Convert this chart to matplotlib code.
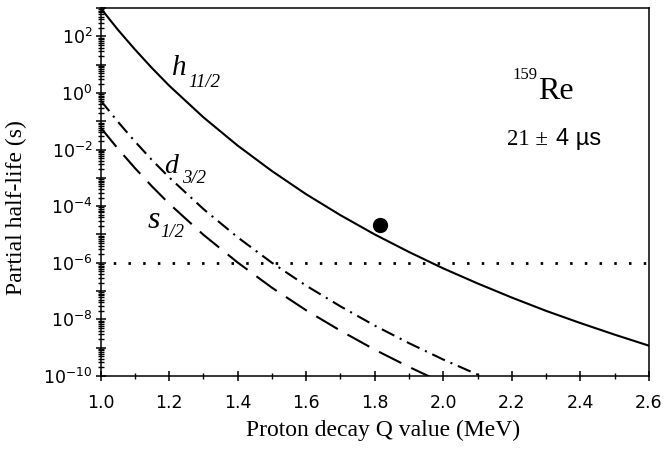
import matplotlib
matplotlib.use('Agg')
import matplotlib.pyplot as plt
import matplotlib.ticker as ticker
import numpy as np

# Q values (MeV) and log10 of partial half-life (s)
q_h = [1.0, 1.05, 1.1, 1.15, 1.2, 1.3, 1.4, 1.5, 1.6, 1.7, 1.8, 1.9, 2.0,
       2.1, 2.2, 2.3, 2.4, 2.5, 2.6]
logt_h = [3.00, 2.24, 1.54, 0.88, 0.26, -0.86, -1.86, -2.76, -3.58, -4.32,
          -5.00, -5.62, -6.20, -6.73, -7.23, -7.70, -8.13, -8.54, -8.93]

q_d = [1.0, 1.05, 1.1, 1.15, 1.2, 1.3, 1.4, 1.5, 1.6, 1.7, 1.8, 1.9, 2.0,
       2.1, 2.15]
logt_d = [-0.26, -1.01, -1.71, -2.37, -2.98, -4.10, -5.10, -6.00, -6.81,
          -7.54, -8.22, -8.84, -9.42, -9.95, -10.20]

q_s = [1.0, 1.05, 1.1, 1.15, 1.2, 1.3, 1.4, 1.5, 1.6, 1.7, 1.8, 1.9, 2.0]
logt_s = [-1.22, -1.96, -2.65, -3.30, -3.91, -5.01, -5.99, -6.88, -7.68,
          -8.40, -9.07, -9.68, -10.25]

# measured point for 159Re
q_meas = 1.816
t_meas = 2.1e-5

# detection limit
limit_q = [1.0, 2.6]
limit_t = [1e-6, 1e-6]

fig = plt.figure(figsize=(6.64, 4.54), dpi=100)
ax = fig.add_axes([0.1514, 0.1718, 0.826, 0.8106])

ax.plot(q_h, 10 ** np.array(logt_h), color='black', lw=1.5)
ax.plot(q_d, 10 ** np.array(logt_d), color='black', lw=1.5,
        dashes=(6.7, 2.9, 1.0, 2.9))
ax.plot(q_s, 10 ** np.array(logt_s), color='black', lw=1.5, dashes=(12, 5.3))
ax.plot(limit_q, limit_t, color='black', lw=2, linestyle=(0.9, (0.9, 4.4)))
ax.plot([q_meas], [t_meas], 'o', color='black', ms=10)

ax.set_yscale('log')
ax.set_xlim(1.0, 2.6)
ax.set_ylim(1e-10, 1e3)

ax.xaxis.set_major_locator(ticker.MultipleLocator(0.2))
ax.xaxis.set_minor_locator(ticker.MultipleLocator(0.1))
ax.xaxis.set_major_formatter(ticker.FormatStrFormatter('%.1f'))

ax.yaxis.set_major_locator(ticker.LogLocator(base=10, numticks=30))
ax.yaxis.set_minor_locator(ticker.LogLocator(base=10, subs=np.arange(2, 10), numticks=30))


def ylab(v, pos):
    e = int(round(np.log10(v)))
    if e % 2:
        return ''
    return r'$\mathdefault{10^{%d}}$' % e


ax.yaxis.set_major_formatter(ticker.FuncFormatter(ylab))
ax.yaxis.set_minor_formatter(ticker.NullFormatter())

ax.tick_params(which='major', direction='inout', length=7.5, width=1.1,
               labelsize=12.5, top=False, right=False)
ax.tick_params(which='minor', direction='inout', length=3.8, width=1.0,
               top=False, right=False)
ax.tick_params(axis='x', which='major', pad=9.5)
ax.tick_params(axis='y', which='major', pad=2)
for sp in ax.spines.values():
    sp.set_linewidth(1.1)

ax.set_xlabel('Proton decay Q value (MeV)', fontsize=17, family='Liberation Serif')
ax.set_ylabel('Partial half-life (s)', fontsize=17, family='Liberation Serif')
ax.xaxis.set_label_coords(0.515, -0.12)
ax.yaxis.set_label_coords(-0.134, 0.457)


def orbital(q, logt, main, sub, size, dx, dy):
    ax.text(q, 10 ** logt, main, fontsize=size, style='italic',
            family='Liberation Serif', ha='left', va='baseline')
    ax.annotate(sub, (q, 10 ** logt), xytext=(dx, dy), textcoords='offset points',
                fontsize=13.5, style='italic', family='Liberation Serif',
                ha='left', va='baseline')


orbital(1.209, 0.62, 'h', '11/2', 21, 11.5, -8.6)
orbital(1.185, -2.84, 'd', '3/2', 20, 13, -7.2)
orbital(1.136, -4.78, 's', '1/2', 23, 9.4, -6.5)

ax.text(2.277, 10 ** -0.23, 'Re', fontsize=23, family='Liberation Serif',
        ha='left', va='baseline')
ax.text(2.274, 10 ** 0.476, '159', fontsize=12, family='Liberation Serif',
        ha='right', va='baseline')
ax.text(2.187, 10 ** -1.85, '21 \u00b1', fontsize=16.5, family='Liberation Serif',
        ha='left', va='baseline')
ax.text(2.33, 10 ** -1.85, '4 \u00b5s', fontsize=17, family='Liberation Sans',
        ha='left', va='baseline')

fig.savefig('out.png', dpi=100)
